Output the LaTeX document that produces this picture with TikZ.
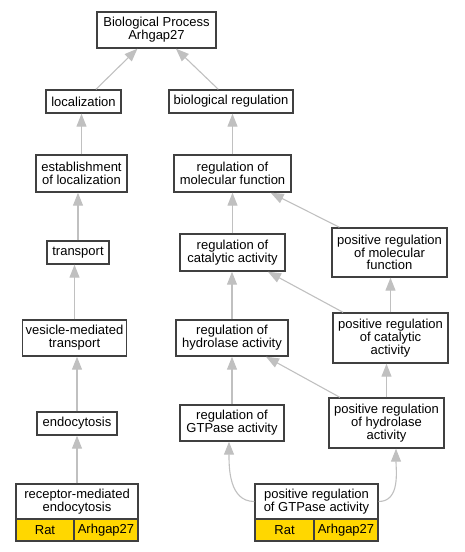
\documentclass[tikz,border=0pt]{standalone}
\usepackage{fontspec}
\setmainfont{Liberation Sans}
\usetikzlibrary{arrows.meta}
\definecolor{boxline}{HTML}{404040}
\definecolor{edgegray}{HTML}{C0C0C0}
\definecolor{gold}{HTML}{FFD700}
\begin{document}
\begin{tikzpicture}[x=1pt,y=-1pt,
  every node/.style={font=\fontsize{13}{12.8}\selectfont},
  term/.style={draw=boxline,line width=1.4pt,fill=white,align=center,inner sep=0pt},
  cell/.style={draw=boxline,line width=1.4pt,fill=gold,align=center,inner sep=0pt,minimum height=22pt},
  isa/.style={draw=edgegray,line width=1.1pt,-{Triangle[length=13pt,width=10pt,fill=edgegray]}}]
\useasboundingbox (0,0) rectangle (464,552);
% nodes
\node[term,minimum width=119pt,minimum height=36pt] (root) at (156.5,30) {Biological Process\\Arhgap27};
\node[term,minimum width=75pt,minimum height=23pt] (loc) at (83.5,101.5) {localization};
\node[term,minimum width=124pt,minimum height=23pt] (bioreg) at (231,101.5) {biological regulation};
\node[term,minimum width=91pt,minimum height=37pt] (estab) at (81.5,173.5) {establishment\\of localization};
\node[term,minimum width=117pt,minimum height=37pt] (regmol) at (232.5,173.5) {regulation of\\molecular function};
\node[term,minimum width=62pt,minimum height=23pt] (transport) at (78,252.5) {transport};
\node[term,minimum width=105pt,minimum height=37pt] (regcat) at (232.5,252.5) {regulation of\\catalytic activity};
\node[term,minimum width=115pt,minimum height=49pt] (posmol) at (389.5,252.5) {positive regulation\\of molecular\\function};
\node[term,minimum width=104pt,minimum height=36pt] (vesicle) at (74.5,338) {vesicle-mediated\\transport};
\node[term,minimum width=112pt,minimum height=36pt] (reghyd) at (232,338) {regulation of\\hydrolase activity};
\node[term,minimum width=115pt,minimum height=50pt] (poscat) at (390.5,338) {positive regulation\\of catalytic\\activity};
\node[term,minimum width=80pt,minimum height=23pt] (endo) at (77,423.5) {endocytosis};
\node[term,minimum width=104pt,minimum height=36pt] (reggtp) at (232,423) {regulation of\\GTPase activity};
\node[term,minimum width=115pt,minimum height=50pt] (poshyd) at (386.5,423) {positive regulation\\of hydrolase\\activity};
\node[term,minimum width=122pt,minimum height=35pt] (recep) at (77,501.5) {receptor-mediated\\endocytosis};
\node[cell,minimum width=58pt] (recrat) at (45,530) {Rat};
\node[cell,minimum width=64pt] (recgene) at (106,530) {Arhgap27};
\node[term,minimum width=123pt,minimum height=35pt] (posgtp) at (316.5,501.5) {positive regulation\\of GTPase activity};
\node[cell,minimum width=59pt] (gtprat) at (284.5,530) {Rat};
\node[cell,minimum width=64pt] (gtpgene) at (346,530) {Arhgap27};
% edges
\draw[isa] (loc) -- (root);
\draw[isa] (bioreg) -- (root);
\draw[isa] (estab.north) -- (estab.north |- loc.south);
\draw[isa] (regmol.north) -- (regmol.north |- bioreg.south);
\draw[isa] (transport.north) -- (transport.north |- estab.south);
\draw[isa] (regcat.north) -- (regcat.north |- regmol.south);
\draw[isa] (posmol) -- (regmol);
\draw[isa] (vesicle.north) -- (vesicle.north |- transport.south);
\draw[isa] (reghyd.north) -- (reghyd.north |- regcat.south);
\draw[isa] (poscat) -- (regcat);
\draw[isa] (poscat.north) -- (poscat.north |- posmol.south);
\draw[isa] (endo.north) -- (endo.north |- vesicle.south);
\draw[isa] (reggtp.north) -- (reggtp.north |- reghyd.south);
\draw[isa] (poshyd) -- (reghyd);
\draw[isa] (poshyd.north) -- (poshyd.north |- poscat.south);
\draw[isa] (recep.north) -- (recep.north |- endo.south);
\draw[isa] (posgtp.west) to[out=180,in=270] (reggtp.south -| 229,0);
\draw[isa] (posgtp.east) to[out=0,in=270] (poshyd.south -| 396,0);
\end{tikzpicture}
\end{document}
